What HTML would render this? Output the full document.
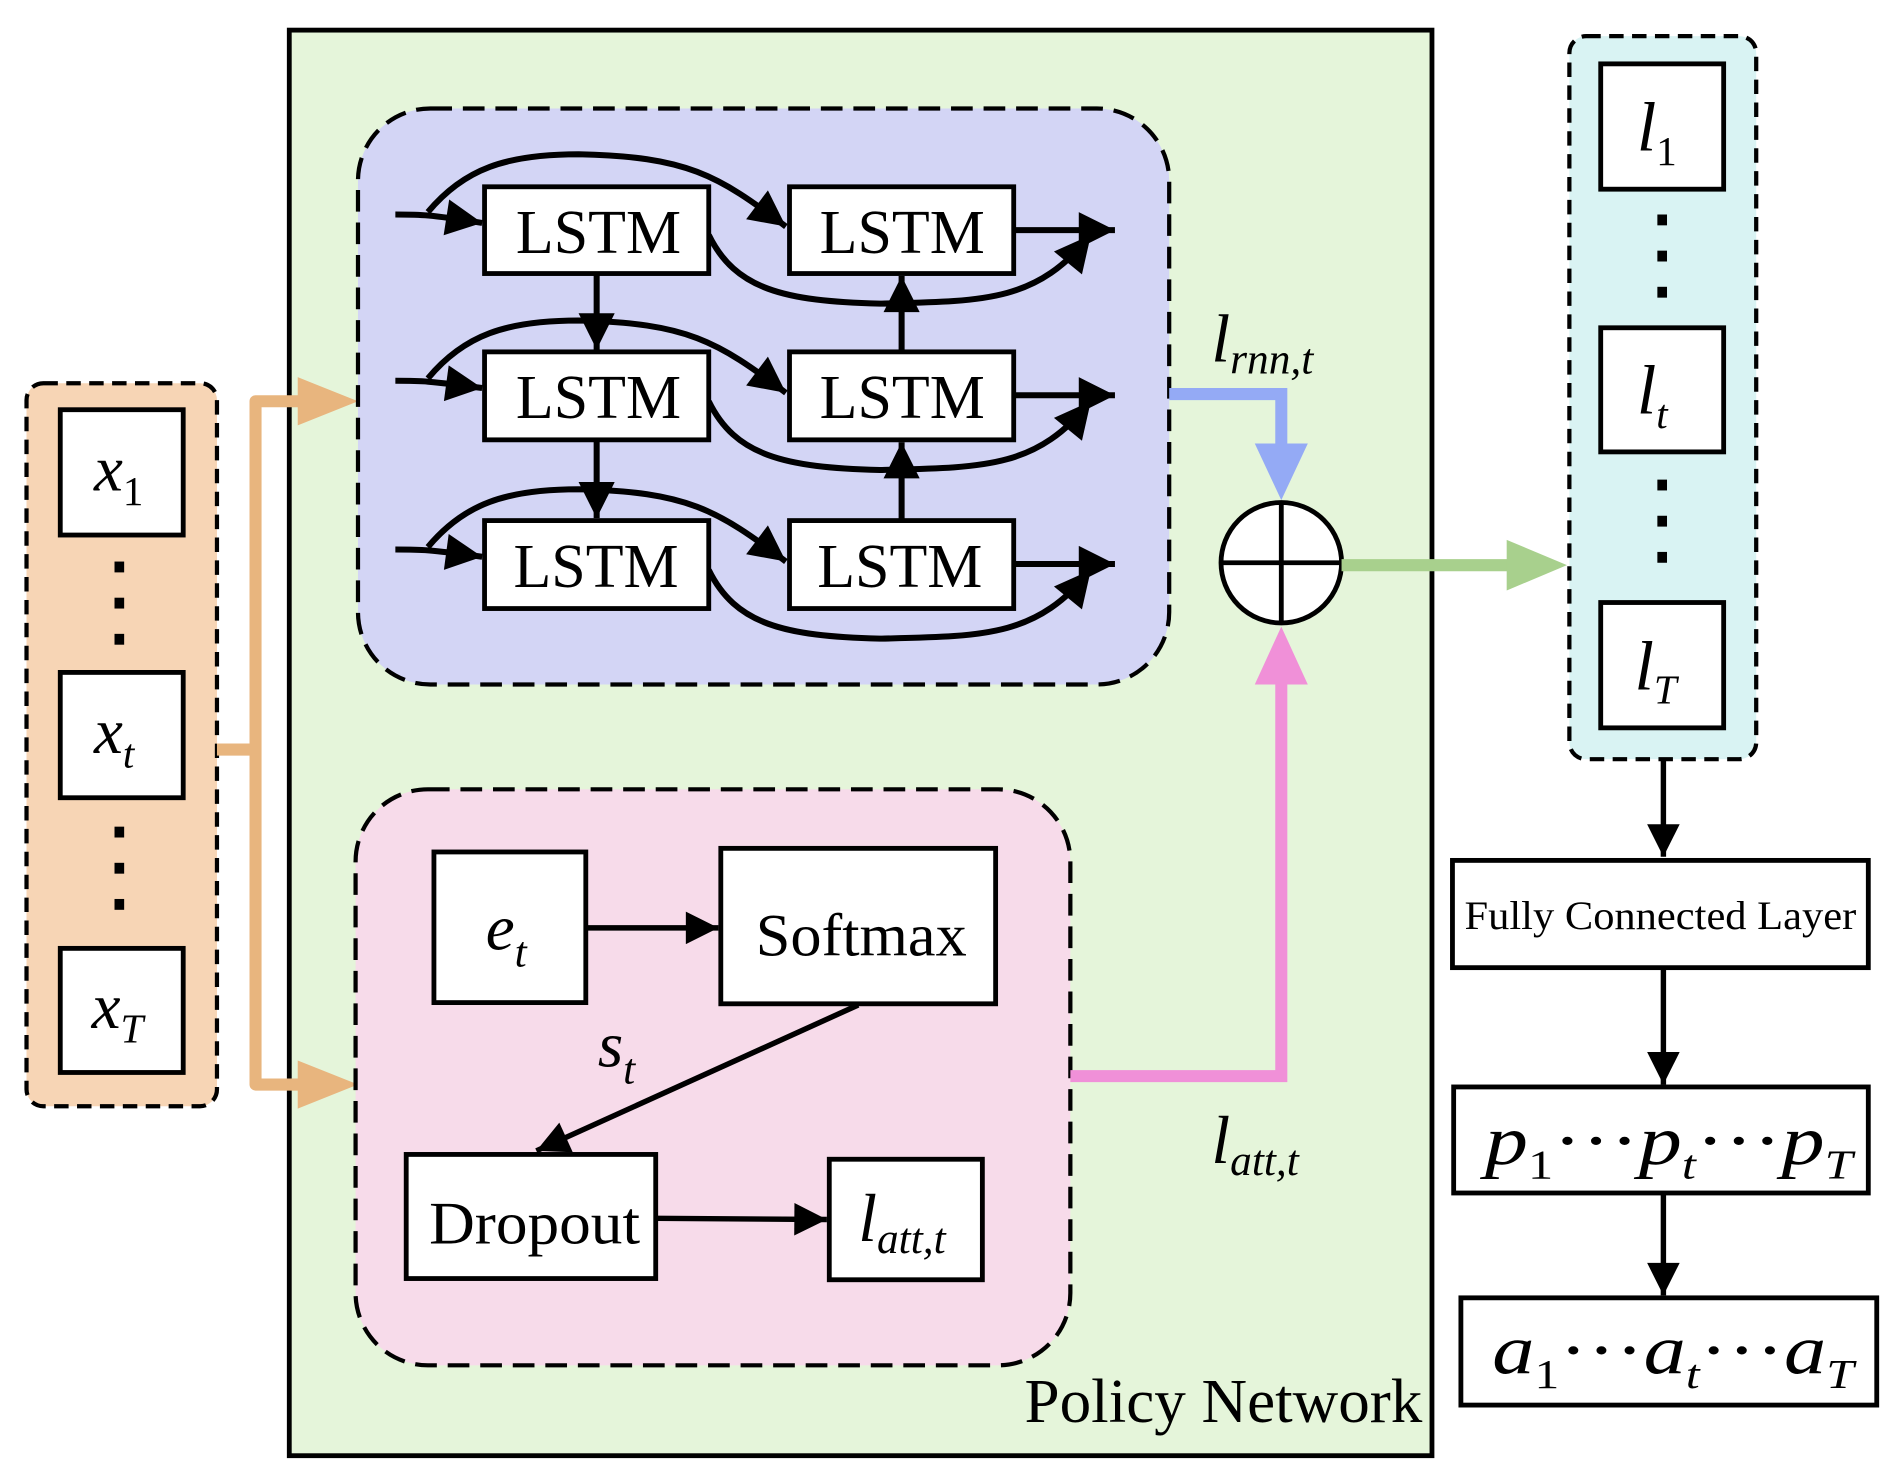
<!DOCTYPE html>
<html><head><meta charset="utf-8"><style>html,body{margin:0;padding:0;background:#fff}svg{display:block}</style></head>
<body>
<svg width="1890" height="1481" viewBox="0 0 1568 1229" preserveAspectRatio="none" xmlns="http://www.w3.org/2000/svg" font-family="'Liberation Serif', serif">
<defs>
<marker id="a" viewBox="0 0 10 10" refX="10" refY="5" markerWidth="7" markerHeight="6" orient="auto" markerUnits="strokeWidth"><path d="M0,0 L10,5 L0,10 z" fill="#000"/></marker>
</defs>
<rect x="240" y="25" width="948" height="1183" fill="#e5f5da" stroke="#000" stroke-width="4"/>
<text x="850" y="1180" font-size="52" textLength="330" lengthAdjust="spacingAndGlyphs">Policy Network</text>
<rect x="22" y="318" width="158" height="600" rx="14" fill="#f7d5b5" stroke="#000" stroke-width="3.5" stroke-dasharray="12,7"/>
<g fill="#fff" stroke="#000" stroke-width="4">
<rect x="50" y="340" width="102" height="104"/><rect x="50" y="558" width="102" height="104"/><rect x="50" y="787" width="102" height="103"/>
</g>
<g font-style="italic" font-size="54">
<text x="78" y="407">x<tspan font-size="34" dy="12" font-style="normal">1</tspan></text>
<text x="78" y="625">x<tspan font-size="34" dy="12">t</tspan></text>
<text x="76" y="853">x<tspan font-size="34" dy="12">T</tspan></text>
</g>
<g fill="#000"><rect x="95" y="466" width="8" height="9"/><rect x="95" y="496" width="8" height="9"/><rect x="95" y="526" width="8" height="9"/>
<rect x="95" y="686" width="8" height="9"/><rect x="95" y="716" width="8" height="9"/><rect x="95" y="746" width="8" height="9"/></g>
<path d="M180,622 H212 V333 H255 M212,622 V900 H255" fill="none" stroke="#e8b57e" stroke-width="10" stroke-linejoin="round"/>
<path d="M247,313 L297,333 L247,353 z M247,880 L297,900 L247,920 z" fill="#e8b57e"/>
<rect x="297" y="90" width="673" height="478" rx="60" fill="#d3d5f5" stroke="#000" stroke-width="3.5" stroke-dasharray="18,9"/>
<g stroke="#000" stroke-width="5" fill="none">
<path d="M328,178 C350,178 355,178 400,185" marker-end="url(#a)"/>
<path d="M355,176 C385,140 420,128 480,128 C570,130 595,145 652,188" marker-end="url(#a)"/>
<path d="M588,195 C610,240 650,250 730,252 C820,250 860,250 905,195" marker-end="url(#a)"/>
<path d="M841,191 H925" marker-end="url(#a)"/>
<path d="M328,316 C350,316 355,316 400,322" marker-end="url(#a)"/>
<path d="M355,314 C385,278 420,266 480,266 C570,268 595,283 652,326" marker-end="url(#a)"/>
<path d="M588,333 C610,378 650,388 730,390 C820,388 860,388 905,333" marker-end="url(#a)"/>
<path d="M841,328 H925" marker-end="url(#a)"/>
<path d="M328,456 C350,456 355,456 400,462" marker-end="url(#a)"/>
<path d="M355,454 C385,418 420,406 480,406 C570,408 595,423 652,466" marker-end="url(#a)"/>
<path d="M588,473 C610,518 650,528 730,530 C820,528 860,528 905,473" marker-end="url(#a)"/>
<path d="M841,468 H925" marker-end="url(#a)"/>
<path d="M495,227 V290" marker-end="url(#a)"/>
<path d="M495,365 V430" marker-end="url(#a)"/>
<path d="M748,292 V229" marker-end="url(#a)"/>
<path d="M748,432 V367" marker-end="url(#a)"/>
</g>
<g fill="#fff" stroke="#000" stroke-width="4">
<rect x="402" y="155" width="186" height="72"/><rect x="655" y="155" width="186" height="72"/>
<rect x="402" y="292" width="186" height="73"/><rect x="655" y="292" width="186" height="73"/>
<rect x="402" y="432" width="186" height="73"/><rect x="655" y="432" width="186" height="73"/>
</g>
<g font-size="52">
<text x="428" y="210" textLength="137" lengthAdjust="spacingAndGlyphs">LSTM</text><text x="680" y="210" textLength="137" lengthAdjust="spacingAndGlyphs">LSTM</text>
<text x="428" y="347" textLength="137" lengthAdjust="spacingAndGlyphs">LSTM</text><text x="680" y="347" textLength="137" lengthAdjust="spacingAndGlyphs">LSTM</text>
<text x="426" y="487" textLength="137" lengthAdjust="spacingAndGlyphs">LSTM</text><text x="678" y="487" textLength="137" lengthAdjust="spacingAndGlyphs">LSTM</text>
</g>
<rect x="295" y="655" width="593" height="478" rx="60" fill="#f7dbea" stroke="#000" stroke-width="3.5" stroke-dasharray="18,9"/>
<g fill="#fff" stroke="#000" stroke-width="4">
<rect x="360" y="707" width="126" height="125"/><rect x="598" y="704" width="228" height="129"/>
<rect x="337" y="958" width="207" height="103"/><rect x="688" y="962" width="127" height="100"/>
</g>
<g stroke="#000" stroke-width="4.5" fill="none">
<path d="M486,770 H596" marker-end="url(#a)"/>
<path d="M712,834 L445,955" marker-end="url(#a)"/>
<path d="M544,1011 L686,1012" marker-end="url(#a)"/>
</g>
<text x="403" y="788" font-size="54" font-style="italic">e<tspan font-size="36" dy="14">t</tspan></text>
<text x="627" y="793" font-size="50" textLength="175" lengthAdjust="spacingAndGlyphs">Softmax</text>
<text x="496" y="885" font-size="54" font-style="italic">s<tspan font-size="36" dy="14">t</tspan></text>
<text x="356" y="1032" font-size="50" textLength="175" lengthAdjust="spacingAndGlyphs">Dropout</text>
<text x="712" y="1030" font-size="56" font-style="italic">l<tspan font-size="36" dy="10">att,t</tspan></text>
<path d="M970,327 H1063 V380" fill="none" stroke="#94aaf5" stroke-width="10"/>
<path d="M1041,368 L1063,415 L1085,368 z" fill="#94aaf5"/>
<path d="M888,893 H1063 V560" fill="none" stroke="#f090d8" stroke-width="10"/>
<path d="M1041,568 L1063,520 L1085,568 z" fill="#f090d8"/>
<text x="1005" y="300" font-size="56" font-style="italic">l<tspan font-size="36" dy="10">rnn,t</tspan></text>
<text x="1005" y="965" font-size="56" font-style="italic">l<tspan font-size="36" dy="10">att,t</tspan></text>
<circle cx="1063" cy="467" r="50" fill="#fff" stroke="#000" stroke-width="4"/>
<path d="M1013,467 H1113 M1063,417 V517" stroke="#000" stroke-width="4"/>
<path d="M1113,469 H1255" stroke="#a8d08d" stroke-width="10"/>
<path d="M1250,448 L1300,469 L1250,490 z" fill="#a8d08d"/>
<rect x="1302" y="30" width="155" height="600" rx="14" fill="#d9f3f3" stroke="#000" stroke-width="3.5" stroke-dasharray="12,7"/>
<g fill="#fff" stroke="#000" stroke-width="4">
<rect x="1328" y="53" width="102" height="104"/><rect x="1328" y="272" width="102" height="103"/><rect x="1328" y="500" width="102" height="104"/>
</g>
<g font-style="italic" font-size="58">
<text x="1358" y="125">l<tspan font-size="34" dy="12" font-style="normal">1</tspan></text>
<text x="1358" y="343">l<tspan font-size="34" dy="12">t</tspan></text>
<text x="1356" y="572">l<tspan font-size="34" dy="12">T</tspan></text>
</g>
<g fill="#000"><rect x="1375" y="178" width="8" height="9"/><rect x="1375" y="208" width="8" height="9"/><rect x="1375" y="238" width="8" height="9"/>
<rect x="1375" y="398" width="8" height="9"/><rect x="1375" y="428" width="8" height="9"/><rect x="1375" y="458" width="8" height="9"/></g>
<g stroke="#000" stroke-width="4.5" fill="none">
<path d="M1380,630 V711" marker-end="url(#a)"/>
<path d="M1380,803 V900" marker-end="url(#a)"/>
<path d="M1380,990 V1075" marker-end="url(#a)"/>
</g>
<g fill="#fff" stroke="#000" stroke-width="4">
<rect x="1205" y="714" width="345" height="89"/><rect x="1206" y="902" width="344" height="88"/><rect x="1212" y="1077" width="345" height="89"/>
</g>
<text x="1215" y="771" font-size="33" textLength="325" lengthAdjust="spacingAndGlyphs">Fully Connected Layer</text>
<text x="1232" y="966" font-size="58" font-style="italic" textLength="305" lengthAdjust="spacingAndGlyphs">p<tspan font-size="34" dy="12" font-style="normal">1</tspan><tspan dy="-12" font-style="normal">···</tspan>p<tspan font-size="34" dy="12">t</tspan><tspan dy="-12" font-style="normal">···</tspan>p<tspan font-size="34" dy="12">T</tspan></text>
<text x="1238" y="1140" font-size="58" font-style="italic" textLength="300" lengthAdjust="spacingAndGlyphs">a<tspan font-size="34" dy="12" font-style="normal">1</tspan><tspan dy="-12" font-style="normal">···</tspan>a<tspan font-size="34" dy="12">t</tspan><tspan dy="-12" font-style="normal">···</tspan>a<tspan font-size="34" dy="12">T</tspan></text>
</svg>
</body></html>
